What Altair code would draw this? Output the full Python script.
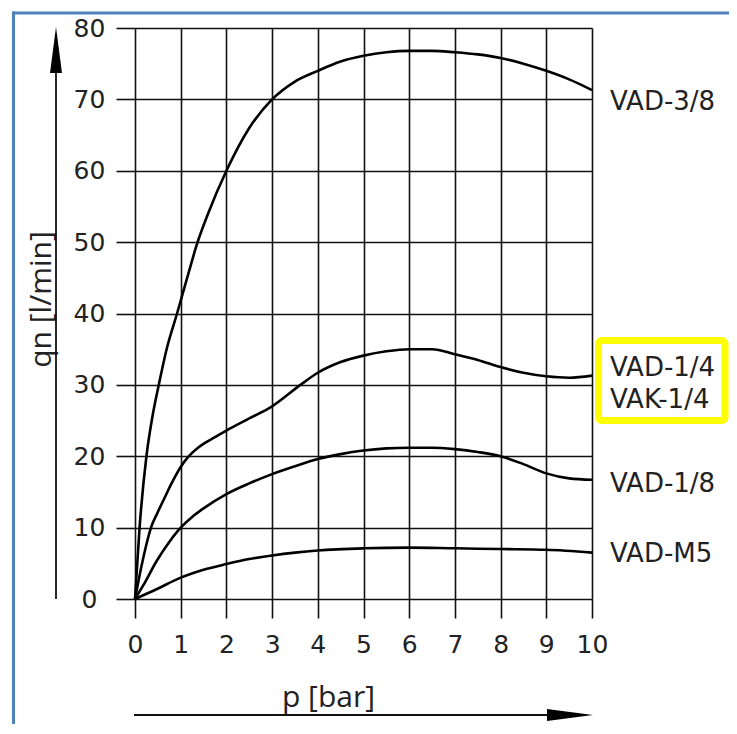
import altair as alt
import pandas as pd

# ---- data ----
p_38 = [0, 0.1, 0.25, 0.38, 0.52, 0.7, 0.92, 1.0, 1.23, 1.35, 1.6, 2.0, 2.5, 3.0, 3.5, 4.0, 4.5, 5.0, 5.5, 6.0, 6.5, 7.0, 7.5, 8.0, 8.5, 9.0, 9.5, 10]
q_38 = [0, 10, 20, 25.5, 30, 35.2, 40, 41.8, 47.0, 49.6, 54.0, 60, 66, 70, 72.5, 74, 75.3, 76.1, 76.6, 76.8, 76.8, 76.6, 76.3, 75.8, 75.0, 74.0, 72.8, 71.3]

p_14 = [0, 0.1, 0.2, 0.35, 0.5, 0.62, 0.8, 1.0, 1.15, 1.4, 1.7, 2.0, 2.5, 3.0, 3.62, 4.0, 4.5, 5.0, 5.5, 6.0, 6.5, 7.0, 7.5, 8.0, 8.5, 9.0, 9.5, 10]
q_14 = [0, 3.3, 6.3, 10, 12.2, 13.8, 16.2, 18.5, 19.8, 21.3, 22.5, 23.6, 25.3, 27.0, 30.0, 31.7, 33.2, 34.1, 34.7, 35.0, 35.0, 34.3, 33.5, 32.5, 31.7, 31.2, 31.0, 31.3]

p_18 = [0, 0.18, 0.48, 0.75, 1.0, 1.25, 1.5, 2.0, 2.5, 3.0, 3.5, 4.0, 4.5, 5.0, 5.5, 6.0, 6.5, 7.0, 7.5, 8.0, 8.5, 9.0, 9.5, 10]
q_18 = [0, 1.9, 5.4, 8.0, 10, 11.5, 12.7, 14.7, 16.2, 17.5, 18.6, 19.6, 20.3, 20.8, 21.1, 21.2, 21.2, 21.0, 20.6, 20.0, 18.9, 17.6, 16.9, 16.7]

p_m5 = [0, 0.48, 1, 1.5, 2, 2.5, 3, 3.5, 4, 5, 6, 7, 8, 9, 10]
q_m5 = [0, 1.4, 3.0, 4.1, 4.9, 5.6, 6.1, 6.5, 6.8, 7.1, 7.2, 7.1, 7.0, 6.9, 6.5]

series_names = ["VAD-3/8", "VAD-1/4", "VAD-1/8", "VAD-M5"]
label_texts = ["VAD-3/8", "VAD-1/4", "VAK-1/4", "VAD-1/8", "VAD-M5"]
label_q = [69.6, 32.3, 27.9, 16.1, 6.3]

x_ticks = list(range(0, 11))
y_ticks = list(range(0, 81, 10))

rows = []
for name, ps, qs in zip(series_names, [p_38, p_14, p_18, p_m5], [q_38, q_14, q_18, q_m5]):
    for p, q in zip(ps, qs):
        rows.append({"series": name, "p": p, "q": q})
df = pd.DataFrame(rows)
lab_df = pd.DataFrame({"label": label_texts, "q": label_q})
dummy = pd.DataFrame({"d": [0]})

INK = "#111111"
TXT = "#222222"

x_enc = alt.X(
    "p:Q",
    scale=alt.Scale(domain=[0, 10], nice=False, zero=False),
    axis=alt.Axis(
        values=x_ticks, title="p [bar]", grid=True, gridColor=INK, gridWidth=1.6, gridOpacity=1,
        tickColor=INK, tickWidth=1.6, tickSize=19, domain=False,
        labelFont="DejaVu Sans", labelFontSize=25, labelColor=TXT,
        labelPadding=26, labelBaseline="middle", labelAlign="center", labelFlush=False,
        labelOverlap=False,
        titleFont="Open Sans", titleFontSize=30, titleFontWeight="normal", titleColor=TXT,
        titleX=193, titleY=107, titleBaseline="alphabetic", titleAlign="center",
    ),
)
y_enc = alt.Y(
    "q:Q",
    scale=alt.Scale(domain=[0, 80], nice=False),
    axis=alt.Axis(
        values=y_ticks, title="qn [l/min]", grid=True, gridColor=INK, gridWidth=1.6, gridOpacity=1,
        tickColor=INK, tickWidth=1.6, tickSize=19, domain=False,
        labelFont="DejaVu Sans", labelFontSize=25, labelColor=TXT,
        labelPadding=27, labelBaseline="middle", labelAlign="center", labelFlush=False,
        labelOverlap=False,
        titleFont="Open Sans", titleFontSize=30, titleFontWeight="normal", titleColor=TXT,
        titleAngle=270, titleX=-85, titleY=271, titleBaseline="alphabetic", titleAlign="center",
    ),
)

lines = alt.Chart(df).mark_line(interpolate="monotone", color="black", strokeWidth=2.6).encode(
    x=x_enc, y=y_enc, detail="series:N", order="p:Q"
)

labels = alt.Chart(lab_df).mark_text(
    align="left", baseline="middle", dx=18, font="DejaVu Sans", fontSize=26, color=TXT
).encode(x=alt.datum(10), y=alt.Y("q:Q"), text="label:N")

yellow = alt.Chart(dummy).mark_rect(
    fill=None, fillOpacity=0, stroke="#ffff00", strokeWidth=7, cornerRadius=3
).encode(x=alt.value(463.5), x2=alt.value(590), y=alt.value(312.5), y2=alt.value(392.5))

x_arrow = alt.Chart(dummy).mark_rule(color=INK, strokeWidth=1.8).encode(
    x=alt.value(-1), x2=alt.value(440), y=alt.value(687)
)
x_head = alt.Chart(dummy).mark_point(
    shape="M -1 -0.26 L 1 0 L -1 0.26 Z", size=2116, filled=True, color="black", opacity=1, strokeWidth=0
).encode(x=alt.value(435), y=alt.value(687))

y_arrow = alt.Chart(dummy).mark_rule(color=INK, strokeWidth=1.8).encode(
    x=alt.value(-79), y=alt.value(571), y2=alt.value(20)
)
y_head = alt.Chart(dummy).mark_point(
    shape="M -0.26 1 L 0 -1 L 0.26 1 Z", size=2116, filled=True, color="black", opacity=1, strokeWidth=0
).encode(x=alt.value(-79), y=alt.value(22))

blue_left = alt.Chart(dummy).mark_rule(color="#4f81bd", strokeWidth=3).encode(
    x=alt.value(-121.5), y=alt.value(-16.5), y2=alt.value(800)
)
blue_top = alt.Chart(dummy).mark_rule(color="#4f81bd", strokeWidth=3).encode(
    x=alt.value(-123), x2=alt.value(700), y=alt.value(-15)
)

chart = alt.layer(
    blue_left, blue_top, yellow, lines, labels, x_arrow, x_head, y_arrow, y_head
).properties(
    width=457,
    height=571,
    padding={"left": 127, "top": 20, "right": 137, "bottom": 125},
    autosize=alt.AutoSizeParams(type="none"),
    background="white",
).configure_view(stroke=None)

chart.save("out.html", embed_options={"renderer": "svg", "actions": False})
